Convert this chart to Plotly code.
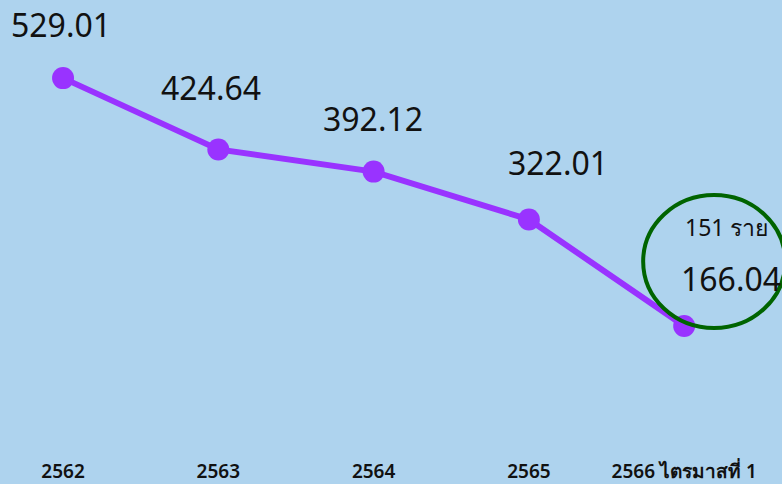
import plotly.graph_objects as go

categories = ["2562", "2563", "2564", "2565", "2566 ไตรมาสที่ 1"]
values = [529.01, 424.64, 392.12, 322.01, 166.04]
value_labels = ["529.01", "424.64", "392.12", "322.01", "166.04"]
count_label = "151 ราย"

# pixel offsets of value labels relative to their points (style/position only)
label_shifts = [(-2, 54), (-7, 62), (-1, 53), (29, 57), (47, 48)]

BG = "#AED3EE"
LINE = "#9933FF"
FONT = "Noto Sans, DejaVu Sans, sans-serif"

fig = go.Figure()
fig.add_trace(go.Scatter(
    x=categories, y=values, mode="lines+markers",
    line=dict(color=LINE, width=6),
    marker=dict(color=LINE, size=22),
    hoverinfo="skip", showlegend=False,
))

# category axis: annotate by category index
for i, (val, lab, (dx, dy)) in enumerate(zip(values, value_labels, label_shifts)):
    fig.add_annotation(x=i, y=val, text=lab, showarrow=False,
                       xshift=dx, yshift=dy,
                       font=dict(family=FONT, size=32, color="#111111"))

last = len(values) - 1
fig.add_annotation(x=last, y=values[last], text=count_label, showarrow=False,
                   xshift=42, yshift=99,
                   font=dict(family=FONT, size=23, color="#111111"))

# circle highlighting the last value
fig.add_shape(type="circle", xref="x", yref="y",
              xsizemode="pixel", ysizemode="pixel",
              xanchor=last, yanchor=values[last],
              x0=-41, x1=101, y0=-2, y1=131,
              line=dict(color="#006400", width=4), fillcolor="rgba(0,0,0,0)")

fig.update_layout(
    width=782, height=484,
    margin=dict(l=0, r=0, t=0, b=26),
    paper_bgcolor=BG, plot_bgcolor=BG,
    xaxis=dict(type="category", range=[-0.406, 4.63], showgrid=False, zeroline=False,
               showline=False, ticks="", ticklabelstandoff=0, automargin=False,
               tickfont=dict(family=FONT, size=19, color="#111111", weight=600)),
    yaxis=dict(range=[-27.2, 643.4], visible=False, showgrid=False, zeroline=False,
               automargin=False),
)

fig.write_html("out.html", config={"displayModeBar": False},
               post_script="document.body.style.margin='0';")
